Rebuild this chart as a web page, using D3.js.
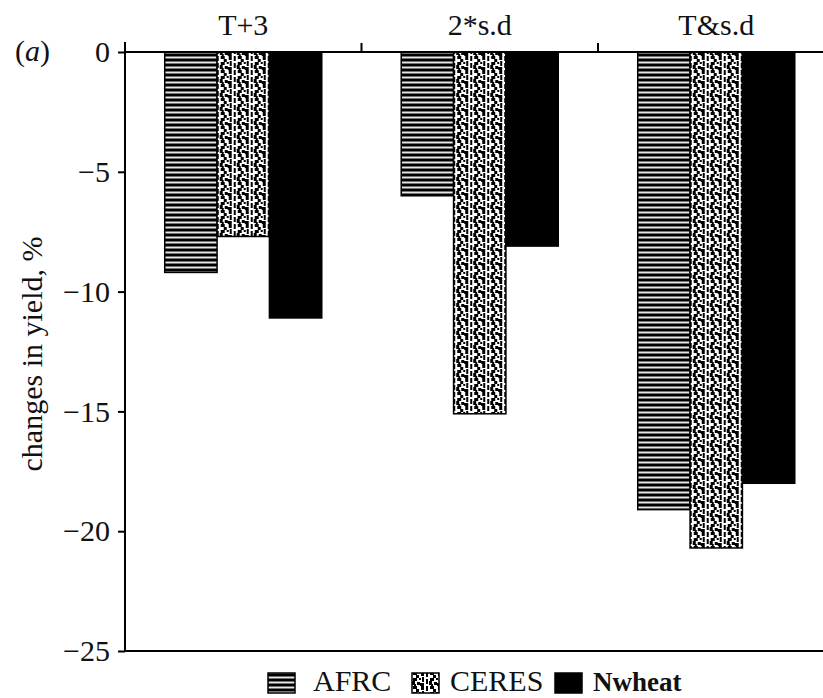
<!DOCTYPE html>
<html>
<head>
<meta charset="utf-8">
<script src="https://cdn.jsdelivr.net/npm/d3@7"></script>
<style>
  html, body { margin: 0; padding: 0; background: #fff; }
  svg { display: block; font-family: "Liberation Serif", "Times New Roman", serif; }
</style>
</head>
<body>
<svg id="chart" width="823" height="698"></svg>
<script>
// Scenario groups along the top axis
const categories = ["T+3", "2*s.d", "T&s.d"];
// Crop models, one bar each per scenario
const series = ["AFRC", "CERES", "Nwheat"];
// Change in yield (%) for each model, in scenario order
const afrc   = [-9.2, -6.0, -19.1];
const ceres  = [-7.7, -15.1, -20.7];
const nwheat = [-11.1, -8.1, -18.0];
// Y axis ticks
const yTicks = [0, -5, -10, -15, -20, -25];

const values = { AFRC: afrc, CERES: ceres, Nwheat: nwheat };

const svg = d3.select("#chart");
const plotLeft = 125, plotTop = 52, plotBottom = 651, step = 236.5;
const ink = "#111";

const x0 = d3.scaleBand()
  .domain(categories)
  .range([plotLeft, plotLeft + step * categories.length])
  .paddingInner(0.336)
  .paddingOuter(0.168);

const x1 = d3.scaleBand()
  .domain(series)
  .range([0, x0.bandwidth()]);

const y = d3.scaleLinear().domain([-25, 0]).range([plotBottom, plotTop]);

// Fill patterns: horizontal rules for AFRC, blotchy columns for CERES
const defs = svg.append("defs");
const pStripe = defs.append("pattern")
  .attr("id", "stripes").attr("patternUnits", "userSpaceOnUse")
  .attr("width", 8).attr("height", 5);
pStripe.append("rect").attr("width", 8).attr("height", 5).attr("fill", "#000");
pStripe.append("rect").attr("y", 1.5).attr("width", 8).attr("height", 2).attr("fill", "#e6e6e6");

const pDots = defs.append("pattern")
  .attr("id", "dots").attr("patternUnits", "userSpaceOnUse")
  .attr("width", 17).attr("height", 14);
pDots.append("rect").attr("width", 17).attr("height", 14).attr("fill", "#fff");
[[1,0,2,5],[1,7,2,5],[5,0,4,3],[8,3,3,3],[5,6,4,3],[4,9,3,4],[9,10,3,3],
 [13,0,3,4],[14,5,2,5],[12,11,4,3],[6,12,2,2],[11,6,2,2]]
  .forEach(([a,b,w,h]) => pDots.append("rect").attr("x", a).attr("y", b)
    .attr("width", w).attr("height", h).attr("fill", "#000"));

const fills = { AFRC: "url(#stripes)", CERES: "url(#dots)", Nwheat: "#000" };

// Bars
const groups = svg.append("g").selectAll("g")
  .data(categories.map((c, i) => ({ c, i })))
  .join("g")
  .attr("transform", d => `translate(${x0(d.c)},0)`);

groups.selectAll("rect")
  .data(d => series.map(s => ({ s, v: values[s][d.i] })))
  .join("rect")
  .attr("x", d => x1(d.s))
  .attr("y", y(0))
  .attr("width", x1.bandwidth())
  .attr("height", d => y(d.v) - y(0))
  .attr("fill", d => fills[d.s])
  .attr("stroke", "#000")
  .attr("stroke-width", 1.5);

// Left axis
const yAxis = d3.axisLeft(y)
  .tickValues(yTicks)
  .tickSize(7)
  .tickPadding(8)
  .tickFormat(d => d < 0 ? "\u2212" + Math.abs(d) : String(d));
const gy = svg.append("g").attr("transform", `translate(${plotLeft},0)`).call(yAxis);
gy.select(".domain").remove();
gy.selectAll(".tick line").attr("stroke", "#000").attr("stroke-width", 2);
gy.selectAll(".tick text").attr("font-size", 30).attr("fill", ink)
  .attr("font-family", "Liberation Serif");

svg.append("line").attr("x1", plotLeft).attr("x2", plotLeft)
  .attr("y1", plotTop - 10).attr("y2", plotBottom + 1)
  .attr("stroke", "#000").attr("stroke-width", 2);

// Zero line and bottom frame line
svg.append("line").attr("x1", plotLeft).attr("x2", 823)
  .attr("y1", y(0)).attr("y2", y(0)).attr("stroke", "#000").attr("stroke-width", 2);
svg.append("line").attr("x1", plotLeft).attr("x2", 823)
  .attr("y1", y(-25)).attr("y2", y(-25)).attr("stroke", "#000").attr("stroke-width", 2);

// Category separators and labels on the top axis
const bounds = categories.map((c, i) => plotLeft + step * i);
svg.append("g").selectAll("line").data(bounds.slice(1)).join("line")
  .attr("x1", d => d).attr("x2", d => d)
  .attr("y1", plotTop - 9).attr("y2", plotTop)
  .attr("stroke", "#000").attr("stroke-width", 2);

svg.append("g").selectAll("text").data(categories).join("text")
  .attr("x", d => x0(d) + x0.bandwidth() / 2)
  .attr("y", 35)
  .attr("text-anchor", "middle")
  .attr("font-size", 30)
  .attr("fill", ink)
  .text(d => d);

// Panel marker
const tag = svg.append("text").attr("x", 15).attr("y", 61)
  .attr("font-size", 30).attr("fill", ink);
tag.append("tspan").text("(");
tag.append("tspan").attr("font-style", "italic").text("a");
tag.append("tspan").text(")");

// Y axis title
svg.append("text")
  .attr("transform", `translate(42,354) rotate(-90)`)
  .attr("text-anchor", "middle")
  .attr("font-size", 30)
  .attr("fill", ink)
  .text("changes in yield, %");

// Legend
const legendItems = [
  { s: "AFRC", x: 268, tx: 313, bold: false, size: 30 },
  { s: "CERES", x: 412, tx: 450, bold: false, size: 30 },
  { s: "Nwheat", x: 555, tx: 593, bold: true, size: 27 }
];
const lg = svg.append("g");
lg.selectAll("rect").data(legendItems).join("rect")
  .attr("x", d => d.x).attr("y", 673)
  .attr("width", 27).attr("height", 20)
  .attr("fill", d => fills[d.s])
  .attr("stroke", "#000").attr("stroke-width", 1.5);
lg.selectAll("text").data(legendItems).join("text")
  .attr("x", d => d.tx).attr("y", 691)
  .attr("font-size", d => d.size)
  .attr("font-weight", d => d.bold ? "bold" : "normal")
  .attr("fill", ink)
  .text(d => d.s);
</script>
</body>
</html>
